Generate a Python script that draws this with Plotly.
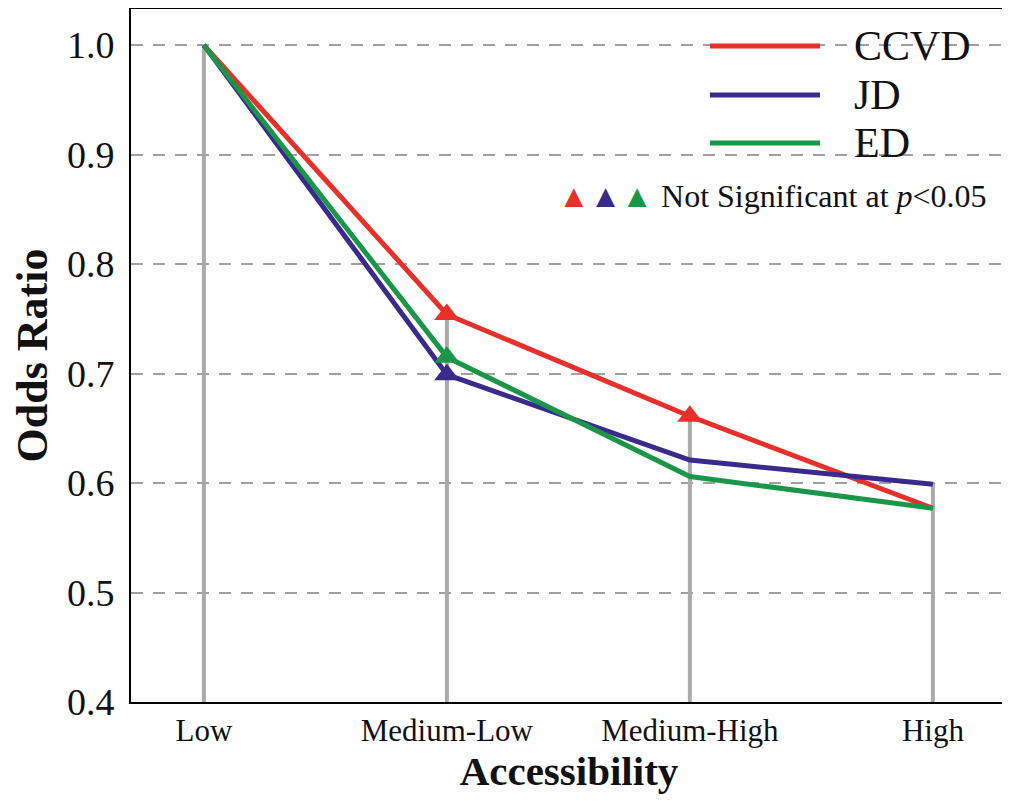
import numpy as np
import plotly.graph_objects as go

categories = ["Low", "Medium-Low", "Medium-High", "High"]
series_names = ["CCVD", "JD", "ED"]
ccvd = [1.0, 0.754, 0.661, 0.577]
jd = [1.0, 0.699, 0.621, 0.599]
ed = [1.0, 0.715, 0.606, 0.577]
# True = marked as not significant at p<0.05 (triangle marker)
ccvd_ns = [False, True, True, False]
jd_ns = [False, True, False, False]
ed_ns = [False, True, False, False]
y_ticks = [0.4, 0.5, 0.6, 0.7, 0.8, 0.9, 1.0]
note_text = "Not Significant at <i>p</i>&lt;0.05"

colors = ["#e8302a", "#3a2a8c", "#1a9648"]
values = [ccvd, jd, ed]
flags = [ccvd_ns, jd_ns, ed_ns]
x_idx = list(range(len(categories)))

fig = go.Figure()

# gray drop lines from the highest value at each category down to the axis
tops = np.max(np.array(values), axis=0)
for i, t in zip(x_idx, tops):
    fig.add_trace(go.Scatter(x=[i, i], y=[y_ticks[0], t], mode="lines",
                             line=dict(color="#aaaaaa", width=4),
                             showlegend=False, hoverinfo="skip"))

for name, vals, col in zip(series_names, values, colors):
    fig.add_trace(go.Scatter(x=x_idx, y=vals, mode="lines", name=name,
                             line=dict(color=col, width=5), showlegend=False))

for name, vals, col, fl in zip(series_names, values, colors, flags):
    xs = [i for i, f in zip(x_idx, fl) if f]
    ys = [v for v, f in zip(vals, fl) if f]
    fig.add_trace(go.Scatter(x=xs, y=ys, mode="markers", name=name + " n.s.",
                             marker=dict(symbol="triangle-up", size=22, color=col,
                                         line=dict(width=0)),
                             showlegend=False))

serif = "Liberation Serif, Times New Roman, serif"

fig.update_xaxes(
    range=[-0.3, 3.305], tickmode="array", tickvals=x_idx, ticktext=categories,
    showgrid=False, zeroline=False, showline=True, linecolor="black", linewidth=2,
    mirror=True, ticks="", ticklabelstandoff=0, automargin=False,
    tickfont=dict(family=serif, size=31, color="#111"),
    title=dict(text="<b>Accessibility</b>", font=dict(family=serif, size=41, color="#111"),
               standoff=6),
)
fig.update_yaxes(
    range=[0.4, 1.033], tickmode="array", tickvals=y_ticks,
    ticktext=[f"{v:.1f}" for v in y_ticks],
    showgrid=True, gridcolor="#a0a0a0", gridwidth=2, griddash="12px,10px",
    zeroline=False, showline=True, linecolor="black", linewidth=2, mirror=True,
    ticks="", ticklabelstandoff=7, automargin=False,
    tickfont=dict(family=serif, size=38, color="#111"),
    title=dict(text="<b>Odds Ratio</b>", font=dict(family=serif, size=44, color="#111"),
               standoff=12),
)

# manual legend (paper coords computed from the intended plot-area pixels)
def px_x(p):
    return (p - 131) / 876.0

def px_y(p):
    return (702 - p) / 693.0

leg_y = [46, 95, 143]
for name, col, yy in zip(series_names, colors, leg_y):
    fig.add_shape(type="line", xref="paper", yref="paper",
                  x0=px_x(710), x1=px_x(820), y0=px_y(yy), y1=px_y(yy),
                  line=dict(color=col, width=5))
    fig.add_annotation(xref="paper", yref="paper", x=px_x(852), y=px_y(yy),
                       xanchor="left", yanchor="middle", showarrow=False,
                       text=name, font=dict(family=serif, size=42, color="#111"))

tri = "".join(f"<span style='color:{c}'>▲</span>" for c in colors)
fig.add_annotation(xref="paper", yref="paper", x=px_x(556), y=px_y(196),
                   xanchor="left", yanchor="middle", showarrow=False,
                   text=f"<span style='font-size:32px'>{tri}</span> {note_text}",
                   font=dict(family=serif, size=32, color="#111"))

# page body has an 8px default margin, so margins are offset to land the plot area
fig.update_layout(
    width=1010, height=801,
    margin=dict(l=123, r=11, t=1, b=107),
    plot_bgcolor="white", paper_bgcolor="white",
    showlegend=False,
)

fig.write_html("out.html")
